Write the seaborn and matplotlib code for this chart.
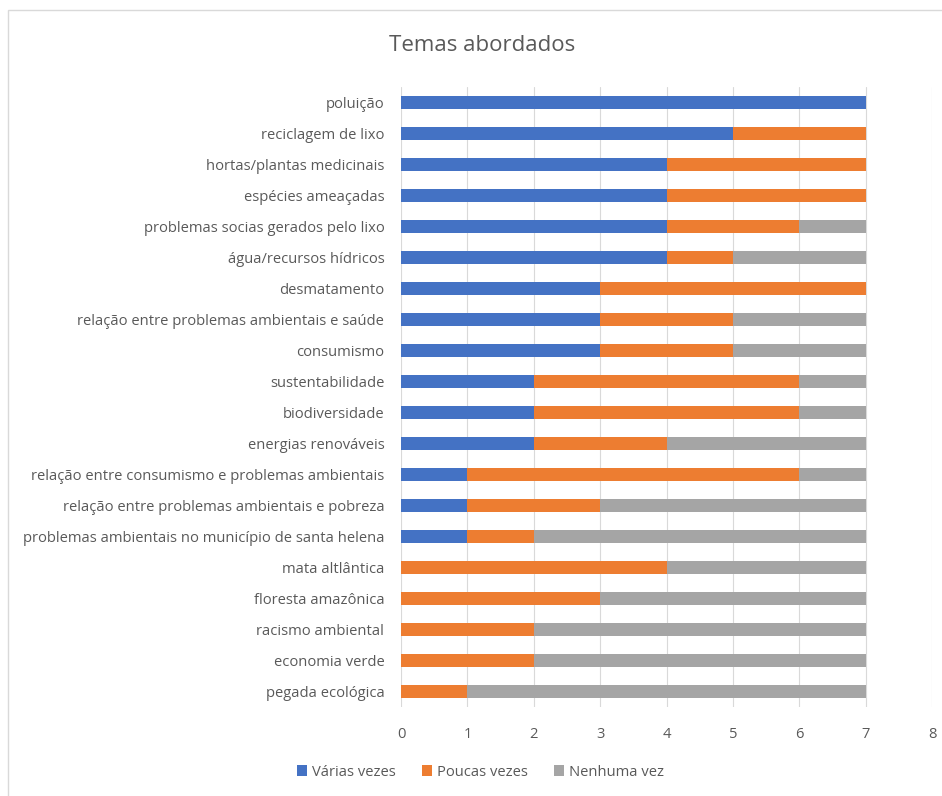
import matplotlib
matplotlib.use("Agg")
import matplotlib.pyplot as plt
from matplotlib.patches import Rectangle, Patch
import seaborn as sns
import pandas as pd
import numpy as np

temas = [
    "poluição",
    "reciclagem de lixo",
    "hortas/plantas medicinais",
    "espécies ameaçadas",
    "problemas socias gerados pelo lixo",
    "água/recursos hídricos",
    "desmatamento",
    "relação entre problemas ambientais e saúde",
    "consumismo",
    "sustentabilidade",
    "biodiversidade",
    "energias renováveis",
    "relação entre consumismo e problemas ambientais",
    "relação entre problemas ambientais e pobreza",
    "problemas ambientais no município de santa helena",
    "mata altlântica",
    "floresta amazônica",
    "racismo ambiental",
    "economia verde",
    "pegada ecológica",
]
varias_vezes = [7, 5, 4, 4, 4, 4, 3, 3, 3, 2, 2, 2, 1, 1, 1, 0, 0, 0, 0, 0]
poucas_vezes = [0, 2, 3, 3, 2, 1, 4, 2, 2, 4, 4, 2, 5, 2, 1, 4, 3, 2, 2, 1]
nenhuma_vez = [0, 0, 0, 0, 1, 2, 0, 2, 2, 1, 1, 3, 1, 4, 5, 3, 4, 5, 5, 6]
series_names = ["Várias vezes", "Poucas vezes", "Nenhuma vez"]
colors = ["#4472C4", "#ED7D31", "#A5A5A5"]
x_ticks = [0, 1, 2, 3, 4, 5, 6, 7, 8]

df = pd.DataFrame({"tema": temas, "v": varias_vezes, "p": poucas_vezes, "n": nenhuma_vez})
df["v_end"] = df["v"]
df["p_end"] = df["v"] + df["p"]
df["n_end"] = df["v"] + df["p"] + df["n"]

sns.set_style("white")
plt.rcParams["font.family"] = ["Open Sans", "DejaVu Sans"]
text_color = "#595959"

fig = plt.figure(figsize=(9.42, 7.96), dpi=100)
ax = fig.add_axes([0.4257, 0.1112, 0.5637, 0.7801])

# Stacked bars: draw cumulative totals from the outermost segment inward
for col, color in zip(["n_end", "p_end", "v_end"], colors[::-1]):
    sns.barplot(data=df, x=col, y="tema", orient="h", color=color,
                width=0.42, ax=ax, saturation=1, edgecolor="none", zorder=3)

ax.set_xlim(0, 8)
ax.set_ylim(len(temas) - 0.5, -0.5)
ax.set_xticks(x_ticks)
ax.set_xlabel("")
ax.set_ylabel("")
ax.grid(axis="x", color="#D9D9D9", linewidth=0.8, zorder=0)
ax.grid(axis="y", visible=False)
for s in ax.spines.values():
    s.set_visible(False)
ax.tick_params(axis="both", length=0, colors=text_color, labelsize=10.6)
ax.tick_params(axis="y", pad=12)
ax.tick_params(axis="x", pad=14)
for lab in ax.get_yticklabels() + ax.get_xticklabels():
    lab.set_color(text_color)

fig.text(0.512, 0.943, "Temas abordados", ha="center", va="center",
         fontsize=16, color=text_color)

handles = [Patch(facecolor=c, edgecolor="none", label=n) for c, n in zip(colors, series_names)]
fig.legend(handles=handles, loc="center", bbox_to_anchor=(0.51, 0.03), ncol=3,
           frameon=False, fontsize=10.6, handlelength=0.7, handleheight=0.7,
           handletextpad=0.3, columnspacing=1.8, labelcolor=text_color)

fig.patches.append(Rectangle((0.009, -0.01), 0.995, 0.997, transform=fig.transFigure,
                             fill=False, edgecolor="#D9D9D9", linewidth=1))

fig.savefig("out.png", dpi=100, facecolor="white")
